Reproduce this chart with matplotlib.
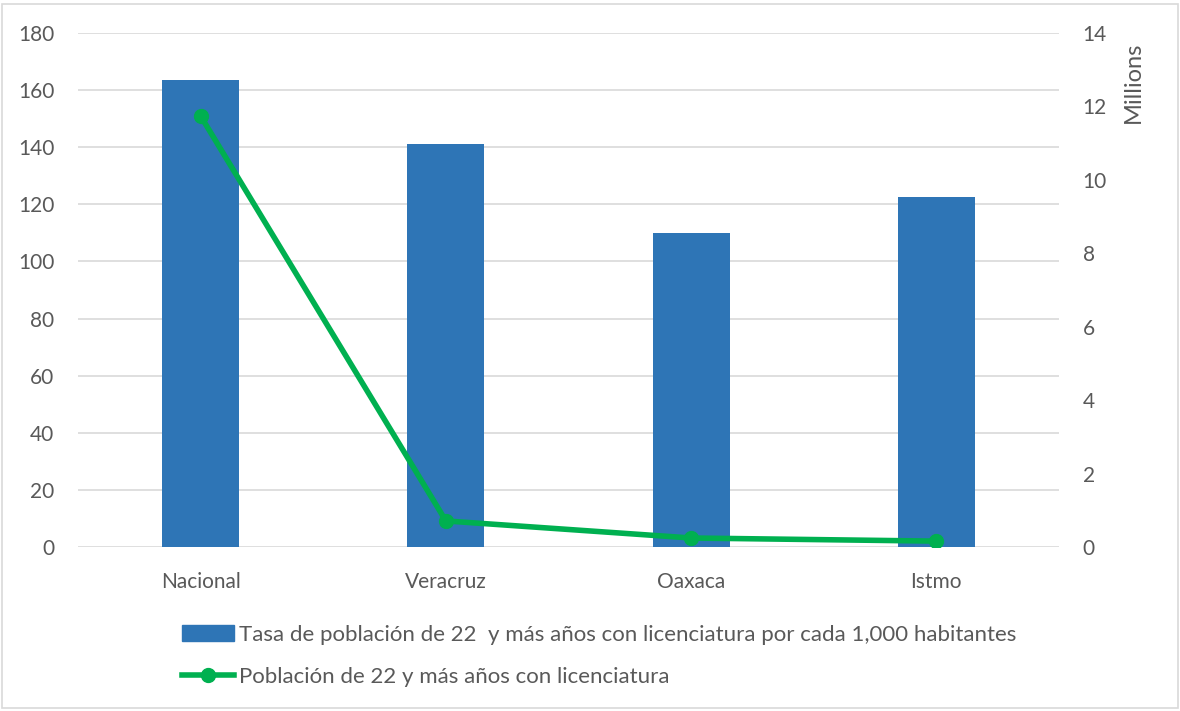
import matplotlib
matplotlib.use("Agg")
import matplotlib.pyplot as plt
from matplotlib.patches import Rectangle
from matplotlib.lines import Line2D

categories = ["Nacional", "Veracruz", "Oaxaca", "Istmo"]
tasa = [163.6, 141.0, 110.0, 122.7]
poblacion_millones = [11.74, 0.71, 0.245, 0.16]
left_ticks = [0, 20, 40, 60, 80, 100, 120, 140, 160, 180]
right_ticks = [0, 2, 4, 6, 8, 10, 12, 14]
label_bar = "Tasa de población de 22  y más años con licenciatura por cada 1,000 habitantes"
label_line = "Población de 22 y más años con licenciatura"

plt.rcParams['font.family'] = ['Lato', 'DejaVu Sans']
txt = '#595959'
blue = '#2E75B6'
green = '#00B050'

fig = plt.figure(figsize=(11.8, 7.11), dpi=100)
W, H = 1180, 711
ax = fig.add_axes([78 / W, 1 - 547 / H, (1059 - 78) / W, (547 - 33) / H])
x = list(range(len(categories)))
ax.bar(x, tasa, width=0.314, color=blue, zorder=2)
ax.set_xlim(-0.5, 3.5)
ax.set_ylim(0, 180)
ax.set_yticks(left_ticks)
ax.set_xticks(x)
ax.set_xticklabels(categories)
ax.grid(axis='y', color='#D9D9D9', linewidth=1.2, zorder=0)
for s in ax.spines.values():
    s.set_visible(False)
ax.tick_params(axis='both', length=0, labelsize=15, colors=txt)
ax.tick_params(axis='y', pad=17)
ax.tick_params(axis='x', pad=18)

ax2 = ax.twinx()
ax2.plot(x, poblacion_millones, color=green, linewidth=4, marker='o', markersize=10, zorder=3)
ax2.set_ylim(0, 14)
ax2.set_yticks(right_ticks)
for s in ax2.spines.values():
    s.set_visible(False)
ax2.tick_params(axis='y', length=0, labelsize=15, colors=txt, pad=17)
ax2.set_ylabel("Millions", fontsize=17, color=txt)
ax2.yaxis.set_label_coords(1.065, 0.905)

# legend
handles = [Rectangle((0, 0), 1, 1, color=blue),
           Line2D([0], [0], color=green, linewidth=4, marker='o', markersize=10)]
leg = fig.legend(handles, [label_bar, label_line], loc='upper left',
                 bbox_to_anchor=(173 / W, 1 - 616 / H), frameon=False, ncol=1,
                 fontsize=16, labelcolor=txt, handlelength=2.35, handletextpad=0.2,
                 labelspacing=1.0, borderaxespad=0)

fig.patches.append(Rectangle((2 / W, 3 / H), (1176 / W), (704 / H), transform=fig.transFigure,
                             fill=False, edgecolor='#D9D9D9', linewidth=1.2))
fig.savefig("out.png", dpi=100)
